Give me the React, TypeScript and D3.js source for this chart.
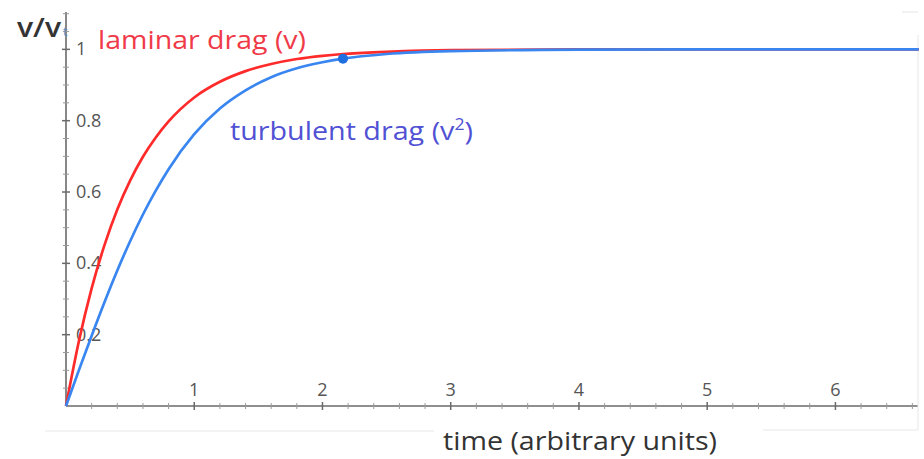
import React from "react";
import * as d3 from "d3";

const times = [0, 0.1, 0.2, 0.3, 0.4, 0.5, 0.6, 0.7, 0.8, 1.0, 1.2, 1.4, 1.6, 1.8, 2.0, 2.16, 2.5, 3.0, 4.0, 5.0, 6.0, 6.65];
const laminar = [0, 0.181, 0.33, 0.451, 0.551, 0.632, 0.699, 0.753, 0.798, 0.865, 0.909, 0.939, 0.959, 0.973, 0.982, 0.987, 0.993, 0.998, 1.0, 1.0, 1.0, 1.0];
const turbulent = [0, 0.1, 0.197, 0.291, 0.38, 0.462, 0.537, 0.604, 0.664, 0.762, 0.834, 0.885, 0.922, 0.947, 0.964, 0.974, 0.987, 0.995, 0.999, 1.0, 1.0, 1.0];
const xTickLabels = [1, 2, 3, 4, 5, 6];
const yTickLabels = [0.2, 0.4, 0.6, 0.8, 1];
const markerPoint = { t: 2.16, v: 0.974 };

export default function App() {
  const W = 924, H = 459;
  const x = d3.scaleLinear().domain([0, 6.64]).range([66, 917.5]);
  const y = d3.scaleLinear().domain([0, 1.1]).range([406, 13.7]);
  const line = (vals: number[]) =>
    d3.line<number>().x((_, i) => x(times[i])).y((d) => y(d)).curve(d3.curveMonotoneX)(vals) || "";

  const xMinor = d3.range(1, 34).map((i) => i * 0.2).filter((v) => Math.abs(v - Math.round(v)) > 0.01);
  const yMinor = d3.range(1, 23).map((i) => i * 0.05).filter((v) => Math.abs(v * 5 - Math.round(v * 5)) > 0.01);
  const axisColor = "#6a6a6a";
  const font = "'Open Sans', 'Noto Sans', sans-serif";

  return (
    <svg width={W} height={H} style={{ position: "absolute", left: 0, top: 0 }} fontFamily={font}>
      <rect width={W} height={H} fill="#fff" />
      {/* faint screenshot frame lines */}
      <line x1={45} x2={434} y1={431} y2={431} stroke="#f3f3f3" strokeWidth={2} />
      <line x1={763} x2={918} y1={430} y2={430} stroke="#f3f3f3" strokeWidth={2} />
      <line x1={918} x2={918} y1={35} y2={430} stroke="#f3f3f3" strokeWidth={2} />
      <line x1={902} x2={918} y1={12} y2={12} stroke="#eeeeee" strokeWidth={1.5} />

      {/* axes */}
      <line x1={x(0)} x2={917.5} y1={y(0)} y2={y(0)} stroke={axisColor} strokeWidth={1.6} />
      <line x1={x(0)} x2={x(0)} y1={y(0)} y2={12} stroke={axisColor} strokeWidth={1.6} />
      {xMinor.map((v) => (
        <line key={"xm" + v} x1={x(v)} x2={x(v)} y1={y(0) - 3} y2={y(0) + 3} stroke="#9a9a9a" strokeWidth={1} />
      ))}
      {xTickLabels.map((v) => (
        <g key={"xt" + v}>
          <line x1={x(v)} x2={x(v)} y1={y(0) - 4} y2={y(0) + 4} stroke={axisColor} strokeWidth={1.5} />
          <text x={x(v)} y={y(0) - 10} textAnchor="middle" fontSize={18} fill="#555">{v}</text>
        </g>
      ))}
      {yMinor.map((v) => (
        <line key={"ym" + v} x1={x(0) - 3} x2={x(0) + 3} y1={y(v)} y2={y(v)} stroke="#9a9a9a" strokeWidth={1} />
      ))}
      {yTickLabels.map((v) => (
        <g key={"yt" + v}>
          <line x1={x(0) - 4} x2={x(0) + 4} y1={y(v)} y2={y(v)} stroke={axisColor} strokeWidth={1.5} />
          <text x={x(0) + 10} y={y(v) + 6} fontSize={18} fill="#555">{v}</text>
        </g>
      ))}

      {/* curves */}
      <path d={line(laminar)} fill="none" stroke="#ff2b2b" strokeWidth={2.7} />
      <path d={line(turbulent)} fill="none" stroke="#3a86f0" strokeWidth={2.7} />
      <circle cx={x(markerPoint.t)} cy={y(markerPoint.v)} r={5} fill="#1f6fe0" />

      {/* labels */}
      <text x={17} y={37} fontSize={27} fill="#333" fontWeight={600} textLength={44} lengthAdjust="spacingAndGlyphs">v/v</text>
      <text x={63} y={36} fontSize={13} fill="#5a8fc8">t</text>
      <text x={98} y={49} fontSize={26} fill="#f03a48" textLength={208} lengthAdjust="spacingAndGlyphs">laminar drag (v)</text>
      <text x={230} y={140} fontSize={26} fill="#5151d4" textLength={243} lengthAdjust="spacingAndGlyphs">
        turbulent drag (v<tspan fontSize={16} dy={-10}>2</tspan><tspan dy={10}>)</tspan>
      </text>
      <text x={443} y={450} fontSize={25} fill="#333" textLength={274} lengthAdjust="spacingAndGlyphs">time (arbitrary units)</text>
    </svg>
  );
}
